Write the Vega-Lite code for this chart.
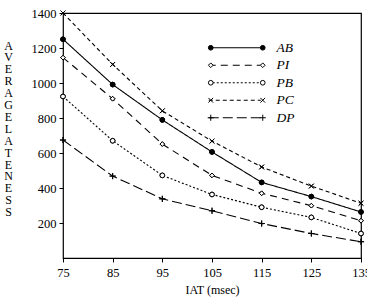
{
  "$schema": "https://vega.github.io/schema/vega-lite/v6.json",
  "width": 298,
  "height": 245,
  "autosize": {"type": "none"},
  "padding": {"left": 63, "top": 13, "right": 6, "bottom": 44},
  "background": "white",
  "config": {
    "view": {"stroke": "black", "strokeWidth": 1.2},
    "font": "Liberation Serif"
  },
  "resolve": {"scale": {"shape": "independent", "fill": "independent"}, "legend": {"shape": "independent", "fill": "independent", "strokeDash": "independent"}},
  "data": {
    "values": [
      {"iat": 75, "s": "AB", "v": 1250}, {"iat": 85, "s": "AB", "v": 991}, {"iat": 95, "s": "AB", "v": 789}, {"iat": 105, "s": "AB", "v": 606}, {"iat": 115, "s": "AB", "v": 432}, {"iat": 125, "s": "AB", "v": 351}, {"iat": 135, "s": "AB", "v": 263},
      {"iat": 75, "s": "PI", "v": 1145}, {"iat": 85, "s": "PI", "v": 910}, {"iat": 95, "s": "PI", "v": 651}, {"iat": 105, "s": "PI", "v": 472}, {"iat": 115, "s": "PI", "v": 370}, {"iat": 125, "s": "PI", "v": 299}, {"iat": 135, "s": "PI", "v": 213},
      {"iat": 75, "s": "PB", "v": 923}, {"iat": 85, "s": "PB", "v": 670}, {"iat": 95, "s": "PB", "v": 472}, {"iat": 105, "s": "PB", "v": 363}, {"iat": 115, "s": "PB", "v": 290}, {"iat": 125, "s": "PB", "v": 232}, {"iat": 135, "s": "PB", "v": 140},
      {"iat": 75, "s": "PC", "v": 1400}, {"iat": 85, "s": "PC", "v": 1106}, {"iat": 95, "s": "PC", "v": 841}, {"iat": 105, "s": "PC", "v": 668}, {"iat": 115, "s": "PC", "v": 520}, {"iat": 125, "s": "PC", "v": 411}, {"iat": 135, "s": "PC", "v": 313},
      {"iat": 75, "s": "DP", "v": 674}, {"iat": 85, "s": "DP", "v": 468}, {"iat": 95, "s": "DP", "v": 338}, {"iat": 105, "s": "DP", "v": 270}, {"iat": 115, "s": "DP", "v": 197}, {"iat": 125, "s": "DP", "v": 140}, {"iat": 135, "s": "DP", "v": 93}
    ]
  },
  "encoding": {
    "x": {
      "field": "iat", "type": "quantitative",
      "scale": {"domain": [75, 135], "nice": false, "zero": false},
      "axis": {
        "values": [75, 85, 95, 105, 115, 125, 135], "format": "d",
        "title": "IAT (msec)", "grid": false, "domain": false,
        "tickColor": "black", "tickSize": 4,
        "labelFont": "Liberation Serif", "labelFontSize": 12.5, "labelColor": "black",
        "labelPadding": 4, "labelFlush": false,
        "titleFont": "Liberation Serif", "titleFontSize": 12, "titleFontWeight": "normal", "titleColor": "black",
        "titlePadding": 6
      }
    },
    "y": {
      "field": "v", "type": "quantitative",
      "scale": {"domain": [0, 1400], "nice": false},
      "axis": {
        "values": [200, 400, 600, 800, 1000, 1200, 1400], "format": "d",
        "title": ["A", "V", "E", "R", "A", "G", "E", "\u2003", "L", "A", "T", "E", "N", "E", "S", "S"],
        "titleAngle": 0, "titleAlign": "center", "titleBaseline": "top",
        "titleX": -55, "titleY": 27, "titleLineHeight": 11.9,
        "grid": false, "domain": false,
        "tickColor": "black", "tickSize": 4,
        "labelFont": "Liberation Serif", "labelFontSize": 12.5, "labelColor": "black",
        "labelPadding": 3,
        "titleFont": "Liberation Serif", "titleFontSize": 12, "titleFontWeight": "normal", "titleColor": "black"
      }
    }
  },
  "layer": [
    {
      "mark": {"type": "line", "color": "black", "strokeWidth": 1.1},
      "encoding": {
        "detail": {"field": "s"},
        "strokeDash": {
          "field": "s", "type": "nominal",
          "scale": {"domain": ["AB", "PI", "PB", "PC", "DP"], "range": [[1, 0], [7, 5], [2, 2], [4, 3], [10, 4]]},
          "legend": {
            "orient": "none", "legendX": 165, "legendY": 28,
            "title": null, "symbolType": "M-5.2,0L5.2,0", "symbolSize": 100,
            "symbolStrokeColor": "black", "symbolStrokeWidth": 1.2, "symbolFillColor": "transparent",
            "labelFont": "Liberation Serif", "labelFontStyle": "italic", "labelFontSize": 13.5,
            "labelColor": "black", "rowPadding": 2.5, "labelOffset": 35
          }
        }
      }
    },
    {
      "mark": {"type": "point", "stroke": "black", "strokeWidth": 1, "size": 22, "opacity": 1},
      "encoding": {
        "shape": {
          "field": "s", "type": "nominal",
          "scale": {"domain": ["AB", "PI", "PB", "PC", "DP"], "range": ["circle", "diamond", "circle", "M-1,-1L1,1M-1,1L1,-1", "M-1.3,0L1.3,0M0,-1.3L0,1.3"]},
          "legend": {
            "orient": "none", "legendX": 141, "legendY": 28,
            "title": null, "symbolSize": 22, "symbolStrokeColor": "black", "symbolStrokeWidth": 1, "symbolFillColor": "white", "symbolOpacity": 1,
            "labelFont": "Liberation Serif", "labelFontStyle": "italic", "labelFontSize": 13.5,
            "labelColor": "white", "labelOpacity": 0, "rowPadding": 2.5
          }
        },
        "fill": {
          "field": "s", "type": "nominal",
          "scale": {"domain": ["AB", "PI", "PB", "PC", "DP"], "range": ["black", "white", "white", "transparent", "transparent"]},
          "legend": null
        }
      }
    },
    {
      "mark": {"type": "point", "stroke": "black", "strokeWidth": 1, "size": 22, "opacity": 1},
      "encoding": {
        "shape": {
          "field": "s", "type": "nominal",
          "scale": {"domain": ["AB", "PI", "PB", "PC", "DP"], "range": ["circle", "diamond", "circle", "M-1,-1L1,1M-1,1L1,-1", "M-1.3,0L1.3,0M0,-1.3L0,1.3"]},
          "legend": {
            "orient": "none", "legendX": 193, "legendY": 28,
            "title": null, "symbolSize": 22, "symbolStrokeColor": "black", "symbolStrokeWidth": 1, "symbolFillColor": "white", "symbolOpacity": 1,
            "labelFont": "Liberation Serif", "labelFontStyle": "italic", "labelFontSize": 13.5,
            "labelColor": "white", "labelOpacity": 0, "rowPadding": 2.5
          }
        },
        "fill": {
          "field": "s", "type": "nominal",
          "scale": {"domain": ["AB", "PI", "PB", "PC", "DP"], "range": ["black", "white", "white", "transparent", "transparent"]},
          "legend": null
        }
      }
    }
  ]
}
